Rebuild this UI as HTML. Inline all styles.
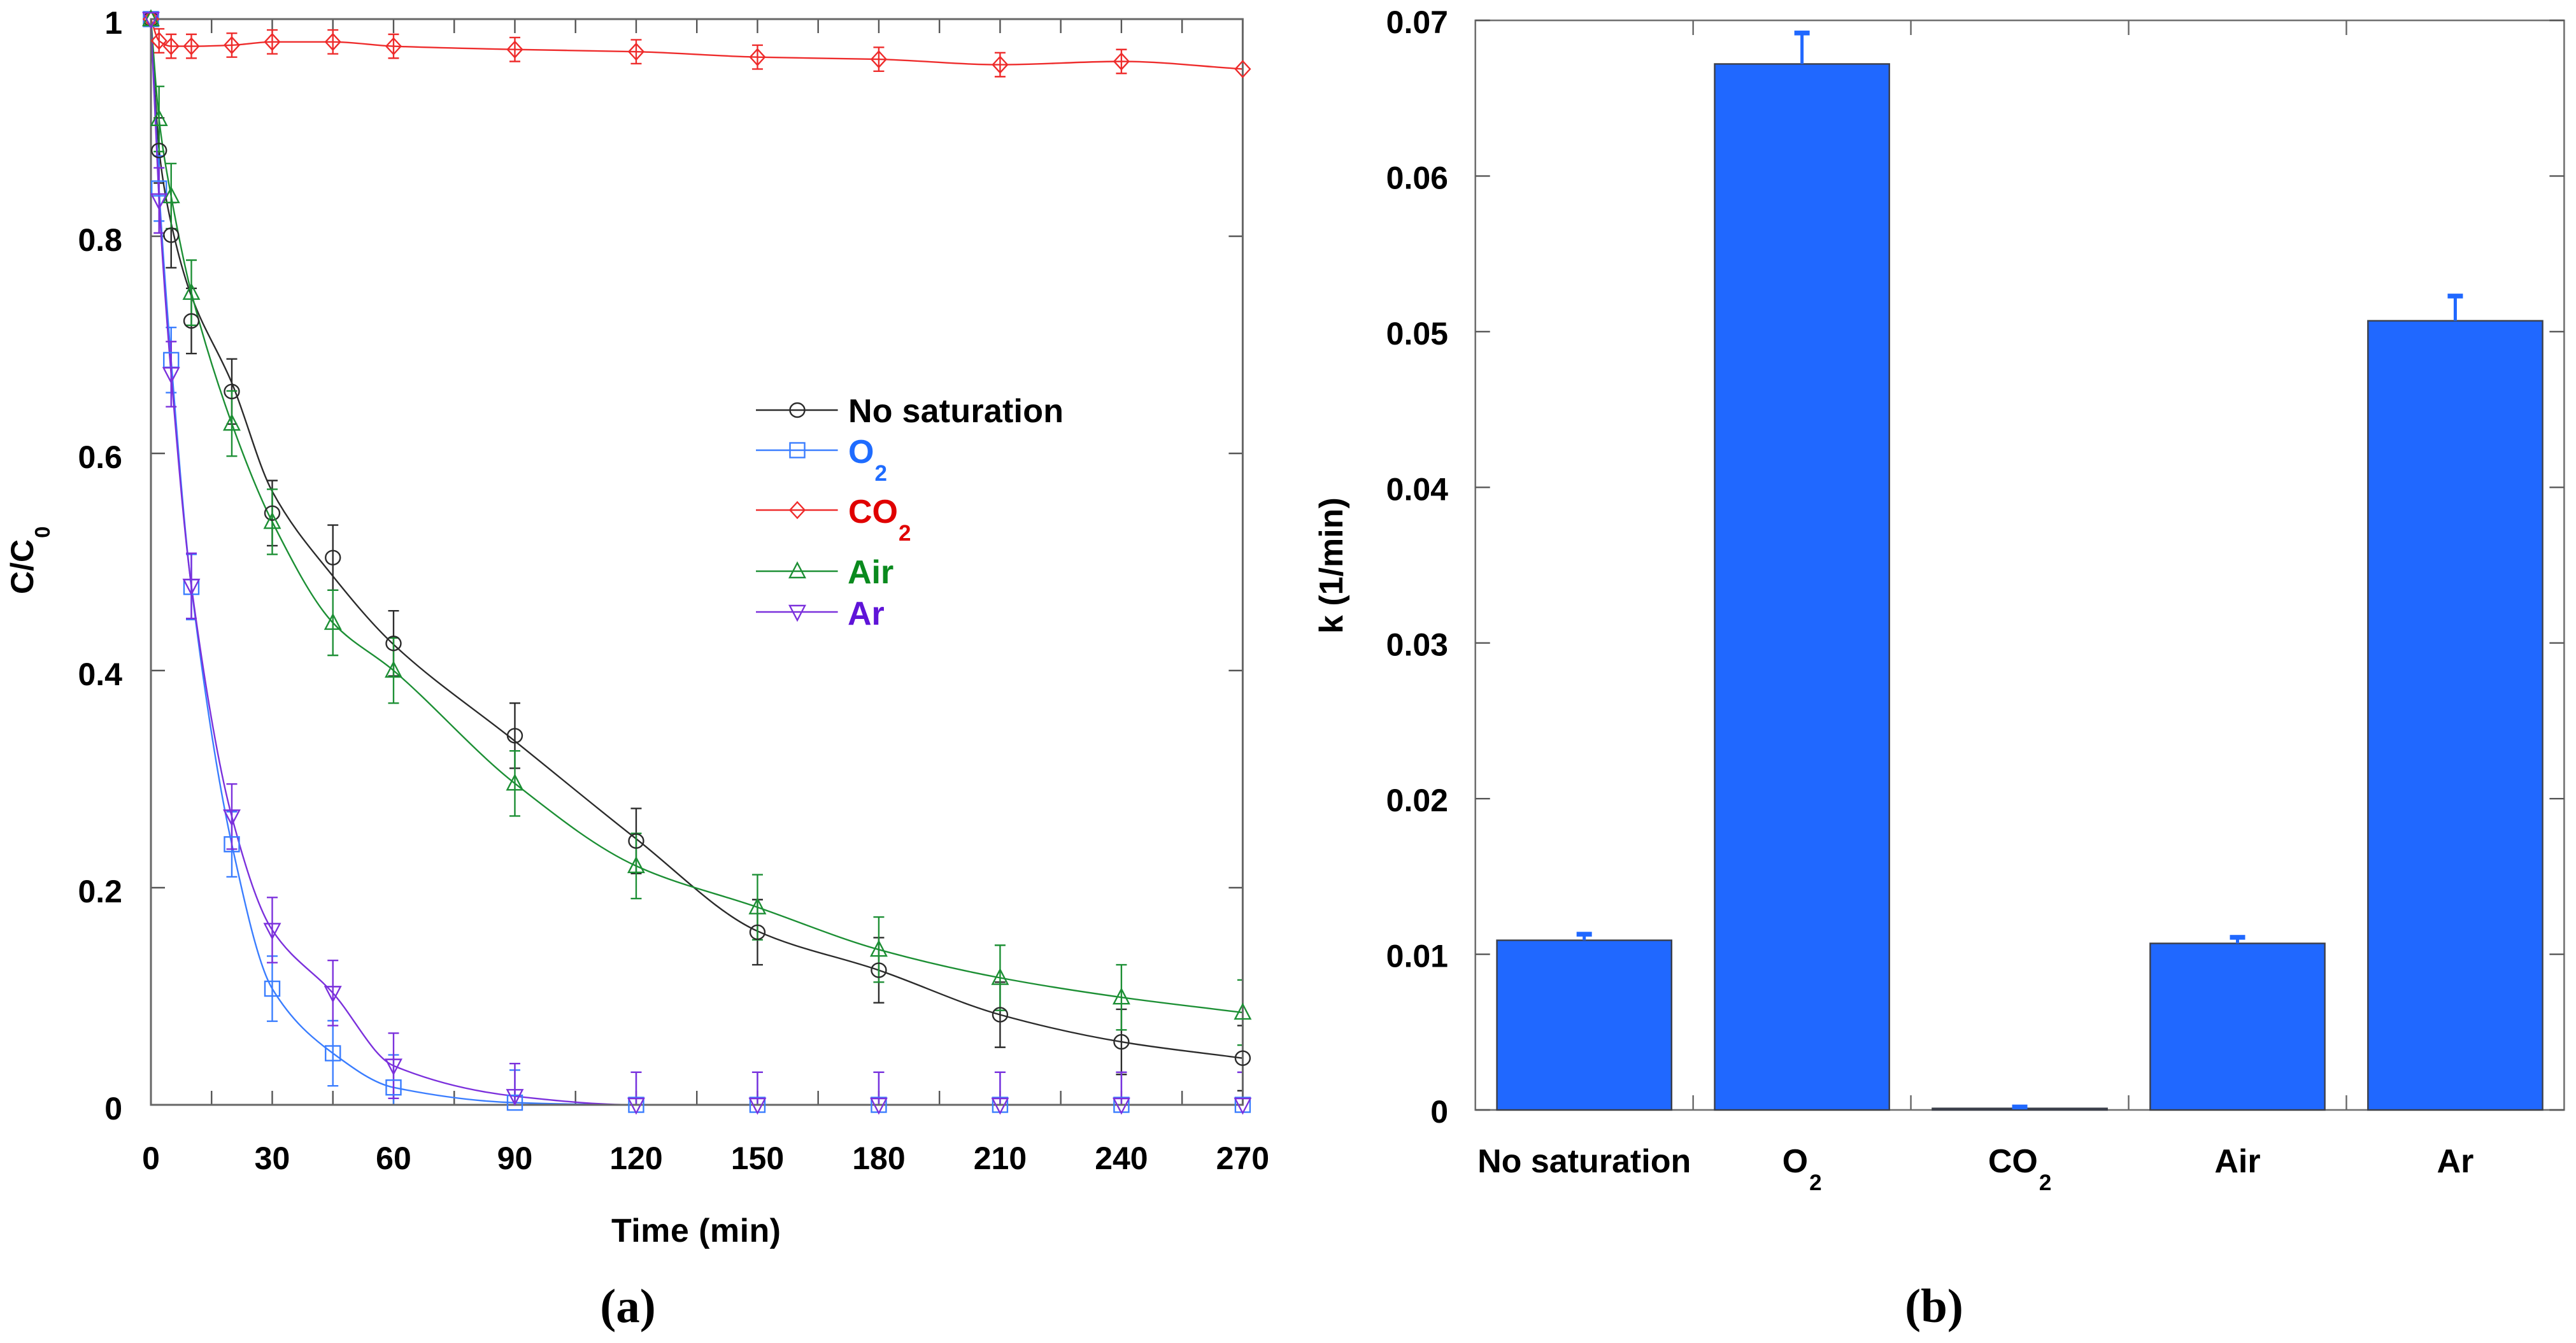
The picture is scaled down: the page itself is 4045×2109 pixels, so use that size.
<!DOCTYPE html>
<html lang="en">
<head>
<meta charset="utf-8">
<title>C/C0 decay and rate constants under different gas saturation</title>
<style>
html,body{margin:0;padding:0;background:#fff;}
svg{display:block;}
text{font-family:"Liberation Sans",sans-serif;font-weight:bold;fill:#000;}
.cap{font-family:"Liberation Serif",serif;font-size:75px;}
</style>
</head>
<body>
<svg id="fig" xmlns="http://www.w3.org/2000/svg" width="4045" height="2109" viewBox="0 0 4045 2109">
  <rect x="0" y="0" width="4045" height="2109" fill="#fff"/>
  <g id="panelA"></g>
  <g id="panelB"></g>

  <text transform="translate(52,933) rotate(-90)" font-size="50">C/C<tspan font-size="33" dy="26" dx="2">0</tspan></text>
  <text x="960" y="1950" font-size="52" textLength="266">Time (min)</text>
  <text transform="translate(2108,995) rotate(-90)" font-size="52">k (1/min)</text>
  <text class="cap" x="986" y="2076" text-anchor="middle">(a)</text>
  <text class="cap" x="3037" y="2076" text-anchor="middle">(b)</text>

  <g id="legend">
    <text x="1332" y="663" font-size="52" textLength="338">No saturation</text>
    <text x="1332" y="727" font-size="52" style="fill:#1f6cff">O<tspan font-size="35" dy="28" dx="1" style="fill:#1f6cff">2</tspan></text>
    <text x="1332" y="821" font-size="52" style="fill:#e00000">CO<tspan font-size="35" dy="28" dx="1" style="fill:#e00000">2</tspan></text>
    <text x="1331" y="916" font-size="52" style="fill:#0a8a1e">Air</text>
    <text x="1331" y="981" font-size="52" style="fill:#5f14d8">Ar</text>
  </g>
</svg>

<script>
// ---------- Panel (a) data ----------
const times = [0, 2, 5, 10, 20, 30, 45, 60, 90, 120, 150, 180, 210, 240, 270];
const noSaturation = [1, 0.879, 0.801, 0.722, 0.657, 0.545, 0.504, 0.425, 0.340, 0.243, 0.159, 0.124, 0.083, 0.058, 0.043];
const noSaturationCurve = [1, 0.880, 0.812, 0.745, 0.665, 0.565, 0.487, 0.424, 0.335, 0.245, 0.160, 0.124, 0.083, 0.058, 0.043];
const oxygen = [1, 0.844, 0.686, 0.477, 0.240, 0.107, 0.0475, 0.016, 0.002, 0, 0, 0, 0, 0, 0];
const carbonDioxide = [1, 0.980, 0.975, 0.975, 0.976, 0.979, 0.979, 0.975, 0.972, 0.970, 0.965, 0.963, 0.958, 0.961, 0.954];
const air = [1, 0.908, 0.837, 0.748, 0.6275, 0.537, 0.444, 0.400, 0.296, 0.220, 0.182, 0.143, 0.117, 0.099, 0.085];
const argon = [1, 0.833, 0.673, 0.478, 0.2655, 0.161, 0.103, 0.036, 0.008, 0, 0, 0, 0, 0, 0];
const noSaturationErr = [0, 0.03, 0.03, 0.03, 0.03, 0.03, 0.03, 0.03, 0.03, 0.03, 0.03, 0.03, 0.03, 0.03, 0.03];
const oxygenErr = [0, 0.03, 0.03, 0.03, 0.03, 0.03, 0.03, 0.03, 0.03, 0.03, 0.03, 0.03, 0.03, 0.03, 0.03];
const carbonDioxideErr = [0, 0.011, 0.011, 0.011, 0.011, 0.011, 0.011, 0.011, 0.011, 0.011, 0.011, 0.011, 0.011, 0.011, 0];
const airErr = [0, 0.03, 0.03, 0.03, 0.03, 0.03, 0.03, 0.03, 0.03, 0.03, 0.03, 0.03, 0.03, 0.03, 0.03];
const argonErr = [0, 0.03, 0.03, 0.03, 0.03, 0.03, 0.03, 0.03, 0.03, 0.03, 0.03, 0.03, 0.03, 0.03, 0.03];
const xTickLabelsA = ["0", "30", "60", "90", "120", "150", "180", "210", "240", "270"];
const xMinorTicksA = [15, 45, 75, 105, 135, 165, 195, 225, 255];
const yTickLabelsA = ["0", "0.2", "0.4", "0.6", "0.8", "1"];

// ---------- Panel (b) data ----------
const categories = ["No saturation", "O", "CO", "Air", "Ar"];
const categorySubscripts = ["", "2", "2", "", ""];
const rateConstants = [0.0109, 0.0672, 0.0001, 0.0107, 0.0507];
const rateErrors = [0.0004, 0.0020, 0.0001, 0.0004, 0.0016];
const yTickLabelsB = ["0", "0.01", "0.02", "0.03", "0.04", "0.05", "0.06", "0.07"];

const NS = "http://www.w3.org/2000/svg";
function mk(tag, parent, attrs) {
  const el = document.createElementNS(NS, tag);
  for (const k in attrs) el.setAttribute(k, attrs[k]);
  parent.appendChild(el);
  return el;
}

// ---------- Axis functions ----------
const ax = { l: 237, r: 1951.4, t: 30, b: 1735 };
const bx = { l: 2316.7, r: 4026.4, t: 32, b: 1743 };
const xA = t => ax.l + (ax.r - ax.l) * t / 270;
const yA = v => ax.b - (ax.b - ax.t) * v;
const yB = v => bx.b - (bx.b - bx.t) * v / 0.07;
const band = (bx.r - bx.l) / categories.length;
const xB = i => bx.l + band * (i + 0.5);

// Monotone cubic path through the points
function splinePath(px, py) {
  const n = px.length, d = [], m = new Array(n);
  for (let i = 0; i < n - 1; i++) d.push((py[i + 1] - py[i]) / (px[i + 1] - px[i]));
  m[0] = d[0]; m[n - 1] = d[n - 2];
  for (let i = 1; i < n - 1; i++) m[i] = d[i - 1] * d[i] <= 0 ? 0 : 2 * d[i - 1] * d[i] / (d[i - 1] + d[i]);
  let s = "M" + px[0].toFixed(1) + " " + py[0].toFixed(1);
  for (let i = 0; i < n - 1; i++) {
    const h = (px[i + 1] - px[i]) / 3;
    s += "C" + (px[i] + h).toFixed(1) + " " + (py[i] + m[i] * h).toFixed(1) + " " +
      (px[i + 1] - h).toFixed(1) + " " + (py[i + 1] - m[i + 1] * h).toFixed(1) + " " +
      px[i + 1].toFixed(1) + " " + py[i + 1].toFixed(1);
  }
  return s;
}

function markerShape(kind, parent, cx, cy, color) {
  const style = { fill: "none", stroke: color, "stroke-width": 2.4 };
  let el;
  if (kind === "circle") {
    el = mk("ellipse", parent, Object.assign({ cx: cx, cy: cy, rx: 11.5, ry: 11 }, style));
  } else if (kind === "square") {
    el = mk("rect", parent, Object.assign({ x: cx - 11.5, y: cy - 11.5, width: 23, height: 23 }, style));
  } else if (kind === "diamond") {
    el = mk("polygon", parent, Object.assign({ points: [cx, cy - 12.5, cx + 11.5, cy, cx, cy + 12.5, cx - 11.5, cy].join(",") }, style));
  } else if (kind === "up") {
    el = mk("polygon", parent, Object.assign({ points: [cx, cy - 13, cx + 12, cy + 10, cx - 12, cy + 10].join(",") }, style));
  } else {
    el = mk("polygon", parent, Object.assign({ points: [cx, cy + 13, cx + 12, cy - 10, cx - 12, cy - 10].join(",") }, style));
  }
  return el;
}

// ---------- Panel (a) ----------
const panelA = document.getElementById("panelA");
const axisColor = "#666";

function xTickA(t) {
  const bottom = mk("line", panelA, { x1: xA(t), x2: xA(t), y1: ax.b, y2: ax.b - 22, stroke: "#555", "stroke-width": 2.4 });
  
  
  const top = mk("line", panelA, { x1: xA(t), x2: xA(t), y1: ax.t, y2: ax.t + 22, stroke: "#555", "stroke-width": 2.4 });
  
  
}
xTickLabelsA.forEach(lbl => {
  const t = Number(lbl);
  xTickA(t);
  const tx = mk("text", panelA, { x: xA(t), y: 1836, "text-anchor": "middle", "font-size": 50 });
  tx.textContent = lbl;
  
  
});
xMinorTicksA.forEach(xTickA);

yTickLabelsA.forEach(lbl => {
  const v = Number(lbl);
  const left = mk("line", panelA, { x1: ax.l, x2: ax.l + 22, y1: yA(v), y2: yA(v), stroke: "#555", "stroke-width": 2.4 });
  
  
  const right = mk("line", panelA, { x1: ax.r, x2: ax.r - 22, y1: yA(v), y2: yA(v), stroke: "#555", "stroke-width": 2.4 });
  
  
  const tx = mk("text", panelA, { x: 192, y: yA(v) + 23, "text-anchor": "end", "font-size": 50 });
  tx.textContent = lbl;
  
  
});

const seriesList = [
  { id: "no-saturation", values: noSaturation, curve: noSaturationCurve, errs: noSaturationErr, color: "#2b2b2b", marker: "circle" },
  { id: "o2", values: oxygen, curve: oxygen, errs: oxygenErr, color: "#3a7dff", marker: "square" },
  { id: "co2", values: carbonDioxide, curve: carbonDioxide, errs: carbonDioxideErr, color: "#ee2b2b", marker: "diamond" },
  { id: "air", values: air, curve: air, errs: airErr, color: "#1c8f34", marker: "up" },
  { id: "ar", values: argon, curve: argon, errs: argonErr, color: "#7b30dc", marker: "down" }
];

// Error bars are clipped to the plot frame; lines and bars sit below the frame, markers above it.
seriesList.forEach(s => {
  const g = mk("g", panelA, {});
  
  
  const path = mk("path", g, { d: splinePath(times.map(xA), s.curve.map(yA)), fill: "none", stroke: s.color, "stroke-width": 2.4 });
  
  
  s.values.forEach((v, i) => {
    const cx = xA(times[i]);
    const capRight = Math.min(cx + 8.5, ax.r);
    const err = s.errs[i];
    if (err > 0) {
      const upper = v + err;
      const lower = v - err;
      const low = Math.max(lower, 0);
      const stem = mk("line", g, { x1: cx, x2: cx, y1: yA(upper), y2: yA(low), stroke: s.color, "stroke-width": 2.4 });
      
      
      const capTop = mk("line", g, { x1: cx - 8.5, x2: capRight, y1: yA(upper), y2: yA(upper), stroke: s.color, "stroke-width": 2.4 });
      
      
      if (lower >= 0) {
        const capLow = mk("line", g, { x1: cx - 8.5, x2: capRight, y1: yA(lower), y2: yA(lower), stroke: s.color, "stroke-width": 2.4 });
        
        
      }
    }
  });
});

const frameA = mk("rect", panelA, { x: ax.l, y: ax.t, width: ax.r - ax.l, height: ax.b - ax.t, fill: "none", stroke: axisColor, "stroke-width": 3 });



seriesList.forEach(s => {
  const g = mk("g", panelA, {});
  
  
  s.values.forEach((v, i) => {
    const mark = markerShape(s.marker, g, xA(times[i]), yA(v), s.color);
    
    
  });
});

// ---------- Legend ----------
const legend = document.getElementById("legend");
const legendYs = [644, 707, 801, 897, 961];
seriesList.forEach((s, i) => {
  const line = mk("line", legend, { x1: 1187, x2: 1315.6, y1: legendYs[i], y2: legendYs[i], stroke: s.color, "stroke-width": 2.6 });
  
  
  const mark = markerShape(s.marker, legend, 1252, legendYs[i], s.color);
  
  
});

// ---------- Panel (b) ----------
const panelB = document.getElementById("panelB");
const barFill = "#2068ff";

const frameB = mk("rect", panelB, { x: bx.l, y: bx.t, width: bx.r - bx.l, height: bx.b - bx.t, fill: "none", stroke: "#707070", "stroke-width": 2.6 });



yTickLabelsB.forEach(lbl => {
  const v = Number(lbl);
  const left = mk("line", panelB, { x1: bx.l, x2: bx.l + 23, y1: yB(v), y2: yB(v), stroke: "#555", "stroke-width": 2.4 });
  
  
  const right = mk("line", panelB, { x1: bx.r, x2: bx.r - 23, y1: yB(v), y2: yB(v), stroke: "#555", "stroke-width": 2.4 });
  
  
  const tx = mk("text", panelB, { x: 2274, y: yB(v) + 20, "text-anchor": "end", "font-size": 50 });
  tx.textContent = lbl;
  
  
});

for (let i = 1; i < categories.length; i++) {
  const bx0 = bx.l + band * i;
  const tickTop = mk("line", panelB, { x1: bx0, x2: bx0, y1: bx.t, y2: bx.t + 23, stroke: "#666", "stroke-width": 2.4 });
  
  
  const tickBottom = mk("line", panelB, { x1: bx0, x2: bx0, y1: bx.b, y2: bx.b - 23, stroke: "#666", "stroke-width": 2.4 });
  
  
}

categories.forEach((cat, i) => {
  const cx = xB(i);
  const w = band * 0.802;
  const value = rateConstants[i];
  const bar = mk("rect", panelB, { x: cx - w / 2, y: yB(value), width: w, height: bx.b - yB(value), fill: barFill, stroke: "#3c3f48", "stroke-width": 2.4 });
  
  
  const topV = value + rateErrors[i];
  const stem = mk("rect", panelB, { x: cx - 2.5, y: yB(topV), width: 5, height: yB(value) - yB(topV), fill: barFill });
  
  
  const cap = mk("rect", panelB, { x: cx - 12, y: yB(topV) - 3.5, width: 24, height: 7.5, fill: barFill });
  
  

  const tx = mk("text", panelB, { x: cx, y: 1841, "text-anchor": "middle", "font-size": 52 });
  tx.textContent = cat;
  
  
  if (categorySubscripts[i]) {
    const sub = mk("tspan", tx, { "font-size": 35, dy: 28, dx: 2 });
    sub.textContent = categorySubscripts[i];
    
    
  }
});
</script>
</body>
</html>
